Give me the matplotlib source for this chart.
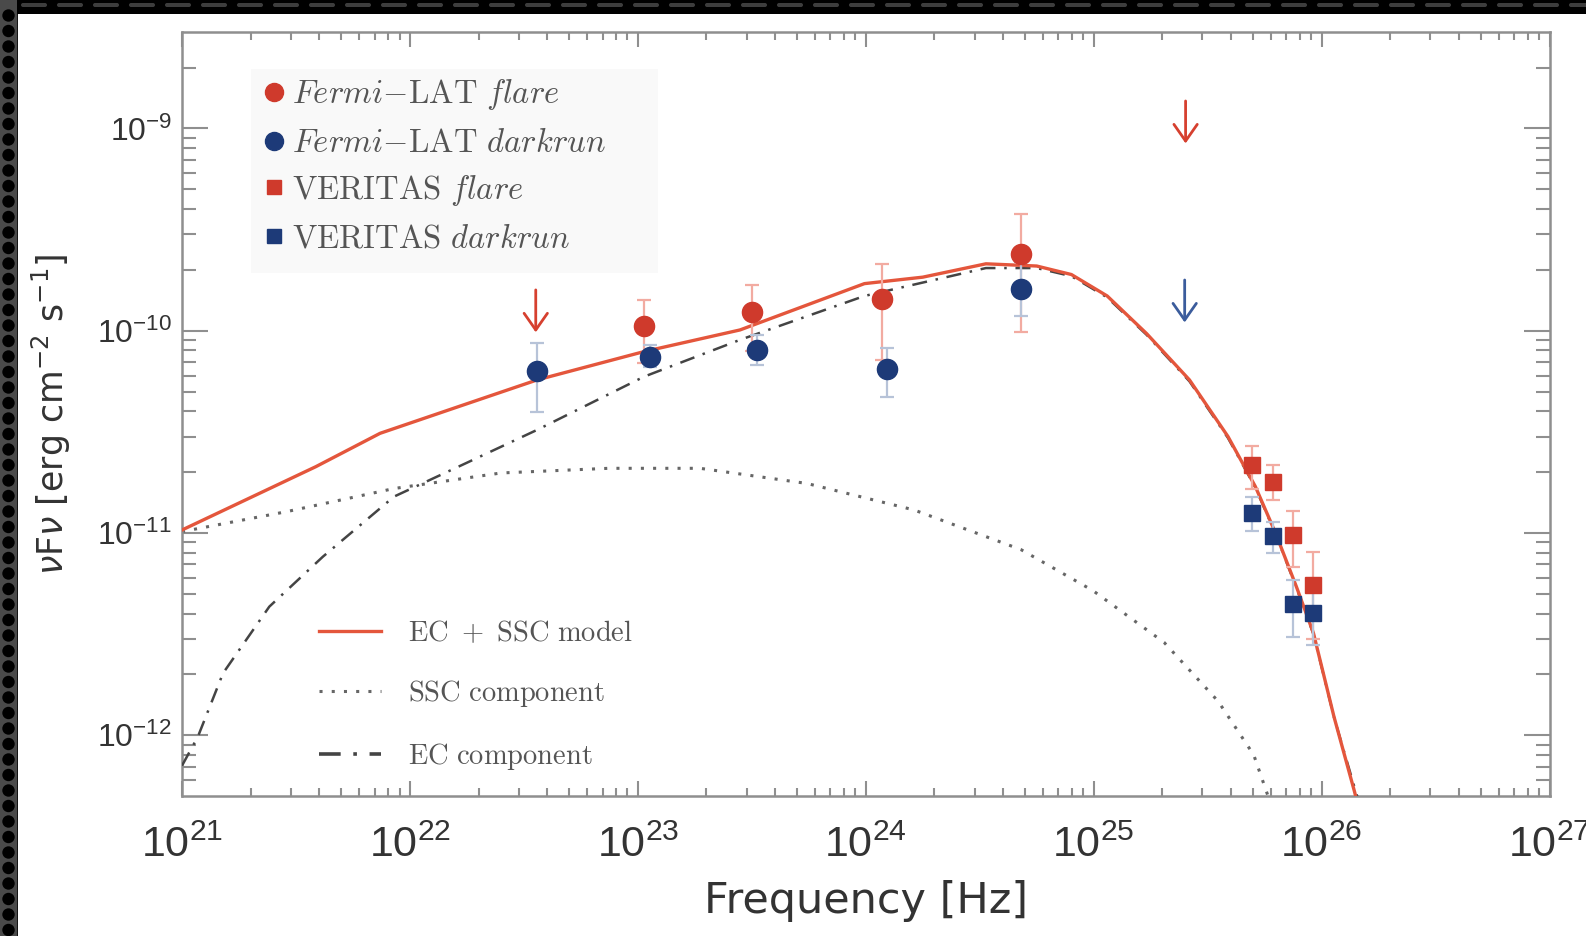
import matplotlib
matplotlib.use("Agg")
import matplotlib.pyplot as plt
import numpy as np
from matplotlib.font_manager import FontProperties
from matplotlib.lines import Line2D
from matplotlib.patches import Rectangle, Circle, FancyBboxPatch
from matplotlib.ticker import LogLocator, NullFormatter


# ---- data (log10 of frequency [Hz] and of nuFnu [erg cm^-2 s^-1]) ----
fermi_flare_logf = [23.025, 23.50, 24.069, 24.679]
fermi_flare_logy = [-9.975, -9.905, -9.841, -9.622]
fermi_flare_lo = [-10.16, -10.10, -10.146, -10.005]
fermi_flare_hi = [-9.848, -9.772, -9.669, -9.425]
fermi_flare_ul_logf = [22.552, 25.403]
fermi_flare_ul_logy = [-9.798, -8.864]

fermi_dark_logf = [22.558, 23.054, 23.523, 24.091, 24.683]
fermi_dark_logy = [-10.197, -10.128, -10.093, -10.19, -9.793]
fermi_dark_lo = [-10.40, -10.178, -10.169, -10.327, -9.925]
fermi_dark_hi = [-10.059, -10.07, -10.023, -10.085, -9.66]
fermi_dark_ul_logf = [25.399]
fermi_dark_ul_logy = [-9.749]

veritas_logf = [25.695, 25.787, 25.874, 25.964]
veritas_flare_logy = [-10.663, -10.746, -11.009, -11.257]
veritas_flare_lo = [-10.784, -10.836, -11.166, -11.525]
veritas_flare_hi = [-10.568, -10.663, -10.891, -11.092]
veritas_dark_logy = [-10.902, -11.014, -11.35, -11.393]
veritas_dark_lo = [-10.988, -11.097, -11.512, -11.553]
veritas_dark_hi = [-10.823, -10.944, -11.232, -11.273]

model_logf = [21.0, 21.3, 21.587, 21.869, 22.2, 22.558, 23.027, 23.448, 23.994,
              24.25, 24.527, 24.75, 24.902, 25.059, 25.232, 25.42, 25.589, 25.709,
              25.798, 25.889, 25.964, 26.054, 26.144, 26.16]
model_logy = [-10.985, -10.825, -10.672, -10.507, -10.38, -10.243, -10.103, -9.996, -9.767,
              -9.735, -9.669, -9.68, -9.722, -9.828, -10.014, -10.243, -10.523, -10.77,
              -11.001, -11.265, -11.495, -11.908, -12.278, -12.35]

ec_logf = [21.0, 21.07, 21.18, 21.383, 21.618, 21.93, 22.245, 22.558, 23.027, 23.448,
           23.994, 24.527, 24.75, 24.902, 25.059, 25.232, 25.42, 25.589, 25.709, 25.798,
           25.889, 25.964, 26.054, 26.15, 26.17]
ec_logy = [-12.15, -12.006, -11.693, -11.364, -11.117, -10.82, -10.655, -10.49, -10.227, -10.045,
           -9.828, -9.69, -9.69, -9.73, -9.835, -10.02, -10.25, -10.53, -10.775, -11.005,
           -11.27, -11.50, -11.91, -12.28, -12.35]

ssc_logf = [21.0, 21.46, 21.93, 22.4, 22.872, 23.273, 23.742, 24.212, 24.681, 24.997,
            25.309, 25.546, 25.702, 25.78]
ssc_logy = [-10.993, -10.894, -10.78, -10.703, -10.68, -10.68, -10.755, -10.886, -11.082, -11.285,
            -11.541, -11.832, -12.097, -12.35]

RED = "#cf3a2c"
BLUE = "#1d3a78"
RED_ERR = "#f2aba1"
BLUE_ERR = "#b7c3d8"
MODEL_RED = "#e4563c"
SSC_GREY = "#666666"
EC_GREY = "#444444"
TEXT = "#333333"
LEGEND_TEXT = "#555555"
AXIS_GREY = "#8f8f8f"

UL_DROP = 0.21  # length of the upper-limit arrows, in dex


def lin(values):
    return 10.0 ** np.asarray(values, dtype=float)


def yerr_from(logy, lo, hi):
    y = lin(logy)
    return np.vstack([y - lin(lo), lin(hi) - y])


W, H = 1586, 936
fig = plt.figure(figsize=(W / 100, H / 100), dpi=100)
fig.patch.set_facecolor("#141414")

# white page inside the dark film-strip border
fig.add_artist(Rectangle((18 / W, 0), 1 - 18 / W, 1 - 14 / H, transform=fig.transFigure,
                         facecolor="white", edgecolor="none", zorder=0))
strip = fig.add_axes([0, 0, 17 / W, 1])
strip.set_xlim(0, 17)
strip.set_ylim(0, H)
strip.axis("off")
strip.add_patch(Rectangle((0, 0), 17, H, facecolor="#4a4a4a", edgecolor="none"))
for yc in np.arange(6, H, 15.5):
    strip.add_patch(Circle((8.5, yc), 6.2, facecolor="black", edgecolor="none"))
top = fig.add_axes([17 / W, 1 - 14 / H, 1 - 17 / W, 14 / H])
top.set_xlim(0, W - 17)
top.set_ylim(0, 14)
top.axis("off")
top.add_patch(Rectangle((0, 0), W, 14, facecolor="black", edgecolor="none"))
for xc in np.arange(4, W, 36):
    top.add_patch(FancyBboxPatch((xc, 7), 26, 4, boxstyle="round,pad=0,rounding_size=2",
                                 facecolor="#3d3d3d", edgecolor="none"))

ax = fig.add_axes([182 / W, 1 - 796 / H, (1549.6 - 182) / W, (796 - 32.4) / H])
ax.set_zorder(2)
ax.set_xscale("log")
ax.set_yscale("log")
ax.set_xlim(1e21, 1e27)
ax.set_ylim(10 ** -12.3, 10 ** -8.525)

# faint panel behind the data legend
ax.add_patch(Rectangle((0.0505, 0.685), 0.2972, 0.267, transform=ax.transAxes,
                       facecolor="#f9f9f9", edgecolor="none", zorder=1))

# model curves
ax.plot(lin(ssc_logf), lin(ssc_logy), color=SSC_GREY, lw=2.2, ls=(0, (1, 3)), zorder=2)
ax.plot(lin(ec_logf), lin(ec_logy), color=EC_GREY, lw=1.8, ls=(0, (6, 3.5, 1, 3.5)), zorder=3)
ax.plot(lin(model_logf), lin(model_logy), color=MODEL_RED, lw=2.4, zorder=4)

# Fermi-LAT points
err_kw = dict(ls="none", elinewidth=1.6, capsize=5, capthick=1.6, zorder=5)
ax.errorbar(lin(fermi_flare_logf), lin(fermi_flare_logy),
            yerr=yerr_from(fermi_flare_logy, fermi_flare_lo, fermi_flare_hi),
            marker="o", ms=14.5, color=RED, ecolor=RED_ERR, mec=RED, **err_kw)
ax.errorbar(lin(fermi_dark_logf), lin(fermi_dark_logy),
            yerr=yerr_from(fermi_dark_logy, fermi_dark_lo, fermi_dark_hi),
            marker="o", ms=14.5, color=BLUE, ecolor=BLUE_ERR, mec=BLUE, **err_kw)

# VERITAS points
ax.errorbar(lin(veritas_logf), lin(veritas_flare_logy),
            yerr=yerr_from(veritas_flare_logy, veritas_flare_lo, veritas_flare_hi),
            marker="s", ms=11, color=RED, ecolor=RED_ERR, mec=RED, **err_kw)
ax.errorbar(lin(veritas_logf), lin(veritas_dark_logy),
            yerr=yerr_from(veritas_dark_logy, veritas_dark_lo, veritas_dark_hi),
            marker="s", ms=11, color=BLUE, ecolor=BLUE_ERR, mec=BLUE, **err_kw)

# upper limits
for logf_list, logy_list, col in ((fermi_flare_ul_logf, fermi_flare_ul_logy, "#d6402f"),
                                  (fermi_dark_ul_logf, fermi_dark_ul_logy, "#3b5c9c")):
    for lf, ly in zip(logf_list, logy_list):
        ax.annotate("", xy=(10 ** lf, 10 ** (ly - UL_DROP)), xytext=(10 ** lf, 10 ** ly),
                    arrowprops=dict(arrowstyle="->,head_length=0.5,head_width=0.35",
                                    color=col, lw=2.0, shrinkA=0, shrinkB=0,
                                    mutation_scale=24),
                    zorder=6)

# IDL-like frame and ticks
for sp in ax.spines.values():
    sp.set_color(AXIS_GREY)
    sp.set_linewidth(1.8)
ax.xaxis.set_major_locator(LogLocator(base=10))
ax.xaxis.set_minor_locator(LogLocator(base=10, subs=np.arange(2, 10), numticks=20))
ax.yaxis.set_major_locator(LogLocator(base=10))
ax.yaxis.set_minor_locator(LogLocator(base=10, subs=np.arange(2, 10), numticks=20))
ax.xaxis.set_minor_formatter(NullFormatter())
ax.yaxis.set_minor_formatter(NullFormatter())
ax.tick_params(which="both", direction="in", top=True, right=True, color=AXIS_GREY, width=1.5)
ax.tick_params(axis="x", which="major", length=11, pad=21, labelsize=31, labelcolor=TEXT)
ax.tick_params(axis="x", which="minor", length=5.5)
ax.tick_params(axis="y", which="major", length=19, pad=7, labelsize=23, labelcolor=TEXT)
ax.tick_params(axis="y", which="minor", length=10)
for lab in ax.get_xticklabels() + ax.get_yticklabels():
    lab.set_fontfamily("Liberation Sans")

ax.set_xlabel("Frequency [Hz]", fontsize=31, color=TEXT, family="DejaVu Sans")
ax.set_ylabel(r"$\nu$F$\nu$ [erg cm$^{-2}$ s$^{-1}$]", fontsize=25, color=TEXT, family="DejaVu Sans")
ax.xaxis.set_label_coords(0.5, -0.110)
ax.yaxis.set_label_coords(-0.0797, 0.5)

# data legend
data_handles = [
    Line2D([], [], ls="none", marker="o", ms=13, color=RED),
    Line2D([], [], ls="none", marker="o", ms=13, color=BLUE),
    Line2D([], [], ls="none", marker="s", ms=10, color=RED),
    Line2D([], [], ls="none", marker="s", ms=10, color=BLUE),
]
data_labels = [
    r"$\mathit{Fermi}\mathrm{-LAT}\ \mathit{flare}$",
    r"$\mathit{Fermi}\mathrm{-LAT}\ \mathit{darkrun}$",
    r"$\mathrm{VERITAS}\ \mathit{flare}$",
    r"$\mathrm{VERITAS}\ \mathit{darkrun}$",
]
leg1 = ax.legend(data_handles, data_labels, loc="center left", bbox_to_anchor=(0.0505, 0.825),
                 prop=FontProperties(size=23.5, math_fontfamily="cm"), frameon=False,
                 borderpad=0.3, borderaxespad=0, handlelength=0.8, handletextpad=0.16,
                 labelspacing=0.42, labelcolor=LEGEND_TEXT)
leg1.set_zorder(7)
ax.add_artist(leg1)

# model legend
model_handles = [
    Line2D([], [], color=MODEL_RED, lw=2.4),
    Line2D([], [], color=SSC_GREY, lw=2.2, ls=(0, (1, 3))),
    Line2D([], [], color=EC_GREY, lw=2.6, ls=(0, (6, 3.5, 1, 3.5))),
]
model_labels = [
    r"$\mathrm{EC\ +\ SSC\ model}$",
    r"$\mathrm{SSC\ component}$",
    r"$\mathrm{EC\ component}$",
]
ax.legend(model_handles, model_labels, loc="center left", bbox_to_anchor=(0.0999, 0.132),
          prop=FontProperties(size=20.5, math_fontfamily="cm"), frameon=False,
          borderpad=0, borderaxespad=0, handlelength=2.2, handletextpad=0.95,
          labelspacing=1.1, labelcolor=LEGEND_TEXT)

fig.savefig("out.png", dpi=100, facecolor=fig.get_facecolor())
